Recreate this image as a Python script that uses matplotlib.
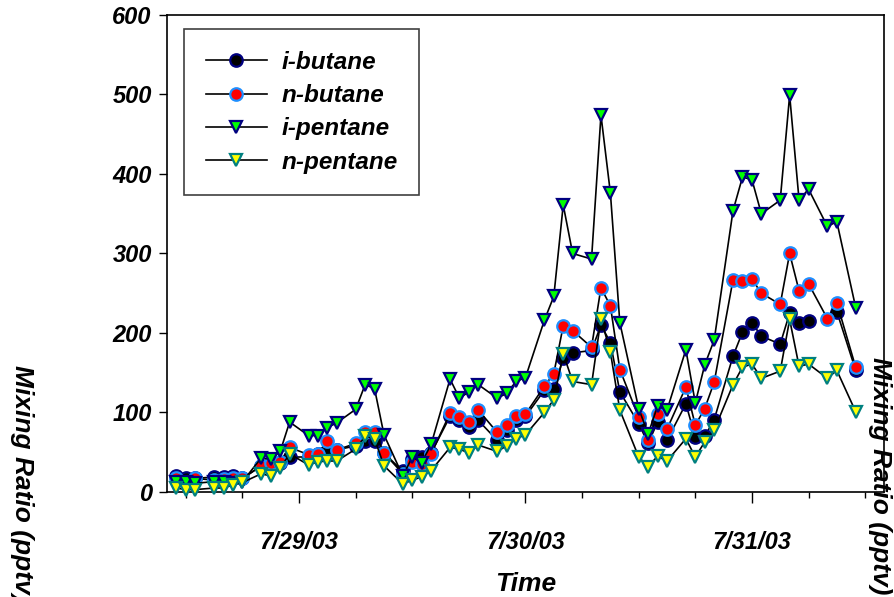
from datetime import datetime, timedelta
import matplotlib
matplotlib.use("Agg")
import matplotlib.pyplot as plt
import matplotlib.dates as mdates
import numpy as np

plt.rcParams['font.family'] = ['Liberation Sans', 'DejaVu Sans']
plt.rcParams['font.weight'] = 'bold'
plt.rcParams['font.style'] = 'italic'
plt.rcParams['axes.labelweight'] = 'bold'

# sample times, hours after 7/29/03 00:00
hours = [-13, -12, -11, -9, -8, -7, -6, -4, -3, -2, -1, 1, 2, 3, 4,
         6, 7, 8, 9, 11, 12, 13, 14, 16, 17, 18, 19, 21, 22, 23, 24,
         26, 27, 28, 29, 31, 32, 33, 34, 36, 37, 38, 39, 41, 42, 43, 44,
         46, 47, 48, 49, 51, 52, 53, 54, 56, 57, 59]

i_butane = [20, 18, 17, 19, 19, 20, 17, 33, 36, 36, 44, 44, 48, 51, 53,
            58, 64, 64, 49, 26, 42, 44, 49, 95, 91, 82, 90, 65, 78, 91, 95,
            128, 129, 168, 175, 178, 210, 188, 126, 86, 61, 88, 65, 111, 69, 70, 91,
            171, 201, 213, 196, 186, 225, 213, 215, np.nan, 227, 153]

n_butane = [17, 13, 17, 15, 16, 18, 17, 33, 36, 38, 56, 47, 48, 64, 53,
            61, 75, 76, 49, 23, 38, 35, 48, 99, 94, 88, 103, 75, 84, 95, 98,
            133, 149, 209, 203, 182, 257, 234, 154, 94, 65, 98, 79, 132, 84, 105, 138,
            267, 265, 268, 250, 236, 300, 253, 262, 218, 238, 157]

i_pentane = [13, 13, 11, 13, 13, 11, 13, 43, 41, 51, 88, 71, 71, 81, 87,
             104, 135, 130, 72, 20, 44, 37, 60, 142, 118, 126, 135, 118, 124, 139, 144,
             216, 246, 361, 300, 293, 474, 376, 213, 105, 73, 108, 103, 179, 112, 160, 191,
             354, 396, 393, 350, 367, 499, 367, 381, 334, 340, 232]

n_pentane = [5, 3, 3, 5, 5, 9, 12, 23, 20, 30, 48, 34, 38, 39, 39,
             54, 70, 67, 33, 10, 15, 19, 27, 56, 54, 49, 59, 51, 58, 67, 72,
             100, 116, 174, 139, 135, 218, 176, 103, 44, 32, 45, 39, 67, 44, 63, 78,
             135, 157, 161, 143, 152, 217, 158, 161, 143, 153, 101]

t0 = datetime(2003, 7, 29)
times = [t0 + timedelta(hours=h) for h in hours]

fig = plt.figure(figsize=(8.94, 5.97), dpi=100)
ax = fig.add_axes([0.1868, 0.1759, 0.8020, 0.7990])

styles = [
    ('i-butane', i_butane, 'o', '#000000', '#000080'),
    ('n-butane', n_butane, 'o', '#ff0000', '#1e8fff'),
    ('i-pentane', i_pentane, 'v', '#00ff00', '#000080'),
    ('n-pentane', n_pentane, 'v', '#ffff00', '#008080'),
]
for name, vals, mk, face, edge in styles:
    ax.plot(times, vals, color='black', lw=1.2, marker=mk, ms=9,
            mfc=face, mec=edge, mew=1.6, label=name, clip_on=False, zorder=3)

ax.set_ylim(0, 600)
ax.set_yticks(range(0, 601, 100))
ax.set_xlim(datetime(2003, 7, 28, 10), datetime(2003, 7, 31, 14))
ax.xaxis.set_major_locator(mdates.DayLocator())
ax.xaxis.set_major_formatter(mdates.DateFormatter('%-m/%d/%y'))
ax.xaxis.set_minor_locator(mdates.HourLocator(byhour=[0, 6, 12, 18]))

ax.tick_params(axis='y', direction='out', length=6, width=1, pad=5, labelsize=17)
ax.tick_params(axis='x', which='major', direction='out', length=8, width=1, pad=20, labelsize=17)
ax.tick_params(axis='x', which='minor', direction='out', length=4, width=1)
for lbl in ax.get_xticklabels() + ax.get_yticklabels():
    lbl.set_fontweight('bold')
for s in ax.spines.values():
    s.set_linewidth(1.2)

ax.set_xlabel('Time', fontsize=19, fontweight='bold', labelpad=13)

fig.text(0.025, 0.19, 'Mixing Ratio (pptv)', rotation=270, fontsize=19,
         fontweight='bold', ha='center', va='center')
fig.text(0.984, 0.204, 'Mixing Ratio (pptv)', rotation=270, fontsize=19,
         fontweight='bold', ha='center', va='center')

leg = ax.legend(loc='upper left', bbox_to_anchor=(0.0237, 0.9706), borderaxespad=0,
                prop={'size': 17.5, 'weight': 'bold', 'style': 'italic'},
                handlelength=2.5, handletextpad=0.6, labelspacing=0.42,
                borderpad=0.9, fancybox=False, edgecolor='#404040', framealpha=1)
leg.get_frame().set_linewidth(1.2)

fig.savefig('out.png', dpi=100)
